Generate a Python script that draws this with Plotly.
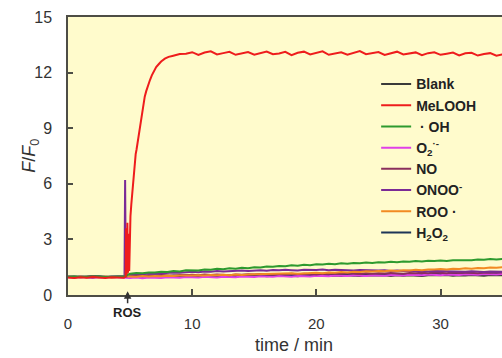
import plotly.graph_objects as go

# ---------------- data ----------------
# shared time base (min) for the slow-response probes
T = [0, 0.5, 1, 1.5, 2, 2.5, 3, 3.5, 4, 4.5,
     4.55, 4.6, 4.65, 4.75, 4.8, 4.85,
     5, 5.5, 6, 6.5, 7, 7.5, 8, 8.5, 9, 9.5,
     10, 10.5, 11, 11.5, 12, 12.5, 13, 13.5, 14, 14.5,
     15, 15.5, 16, 16.5, 17, 17.5, 18, 18.5, 19, 19.5,
     20, 20.5, 21, 21.5, 22, 22.5, 23, 23.5, 24, 24.5,
     25, 25.5, 26, 26.5, 27, 27.5, 28, 28.5, 29, 29.5,
     30, 30.5, 31, 31.5, 32, 32.5, 33, 33.5, 34, 34.5,
     35]

blank = [0.99, 0.97, 1.00, 0.98, 1.01, 0.97, 0.99, 0.98, 1.00, 0.97,
         0.98, 0.99, 0.97, 0.98, 1.00, 0.99,
         1.00, 1.02, 0.99, 1.01, 1.03, 1.00, 1.02, 0.99, 1.03, 1.01,
         1.02, 1.04, 1.00, 1.03, 1.01, 1.04, 1.02, 1.00, 1.04, 1.02,
         1.03, 1.05, 1.01, 1.04, 1.02, 1.05, 1.03, 1.01, 1.05, 1.03,
         1.04, 1.06, 1.02, 1.05, 1.03, 1.06, 1.04, 1.02, 1.06, 1.04,
         1.05, 1.07, 1.03, 1.06, 1.04, 1.07, 1.05, 1.03, 1.07, 1.05,
         1.06, 1.08, 1.04, 1.07, 1.05, 1.08, 1.06, 1.04, 1.08, 1.06,
         1.07]

h2o2 = [0.98, 1.00, 0.97, 0.99, 0.98, 1.01, 0.97, 0.99, 1.00, 0.98,
        0.99, 0.98, 1.00, 0.99, 1.01, 1.02,
        1.03, 1.01, 1.04, 1.02, 1.05, 1.03, 1.01, 1.05, 1.03, 1.06,
        1.04, 1.02, 1.06, 1.04, 1.07, 1.05, 1.03, 1.07, 1.05, 1.08,
        1.06, 1.04, 1.08, 1.06, 1.09, 1.07, 1.05, 1.09, 1.07, 1.10,
        1.08, 1.06, 1.10, 1.08, 1.11, 1.09, 1.07, 1.11, 1.09, 1.12,
        1.10, 1.08, 1.12, 1.10, 1.13, 1.11, 1.09, 1.13, 1.11, 1.14,
        1.12, 1.10, 1.14, 1.12, 1.15, 1.13, 1.11, 1.15, 1.13, 1.16,
        1.14]

superoxide = [0.96, 0.94, 0.97, 0.95, 0.93, 0.96, 0.94, 0.97, 0.95, 0.94,
              0.95, 0.94, 0.96, 0.95, 0.93, 0.94,
              0.92, 0.94, 0.91, 0.95, 0.93, 0.92, 0.96, 0.94, 0.93, 0.97,
              0.95, 0.94, 0.98, 0.96, 0.95, 0.99, 0.97, 0.96, 1.00, 0.98,
              0.97, 1.01, 0.99, 0.98, 1.02, 1.00, 0.99, 1.03, 1.01, 1.00,
              1.04, 1.02, 1.01, 1.05, 1.03, 1.02, 1.06, 1.04, 1.03, 1.07,
              1.05, 1.04, 1.08, 1.06, 1.05, 1.09, 1.07, 1.06, 1.10, 1.08,
              1.07, 1.11, 1.09, 1.08, 1.12, 1.10, 1.09, 1.13, 1.11, 1.10,
              1.13]

no = [0.97, 0.99, 0.96, 0.98, 1.00, 0.97, 0.99, 0.96, 0.98, 0.97,
      0.98, 0.97, 0.99, 1.00, 1.02, 1.03,
      1.04, 1.06, 1.03, 1.07, 1.05, 1.08, 1.06, 1.04, 1.08, 1.06,
      1.09, 1.07, 1.10, 1.08, 1.11, 1.09, 1.07, 1.11, 1.09, 1.12,
      1.10, 1.13, 1.11, 1.09, 1.13, 1.11, 1.14, 1.12, 1.15, 1.13,
      1.11, 1.15, 1.13, 1.16, 1.14, 1.17, 1.15, 1.13, 1.17, 1.15,
      1.18, 1.16, 1.19, 1.17, 1.15, 1.19, 1.17, 1.20, 1.18, 1.21,
      1.19, 1.17, 1.21, 1.19, 1.22, 1.20, 1.18, 1.22, 1.20, 1.23,
      1.21]

onoo = [0.98, 0.96, 0.99, 0.97, 0.95, 0.98, 0.96, 0.99, 0.97, 0.98,
        1.00, 6.20, 1.20, 1.10, 1.05, 1.08,
        1.10, 1.13, 1.12, 1.16, 1.15, 1.18, 1.17, 1.21, 1.20, 1.23,
        1.25, 1.23, 1.27, 1.26, 1.29, 1.27, 1.30, 1.29, 1.32, 1.30,
        1.32, 1.34, 1.31, 1.35, 1.33, 1.36, 1.34, 1.32, 1.36, 1.34,
        1.35, 1.37, 1.33, 1.36, 1.34, 1.35, 1.32, 1.35, 1.33, 1.31,
        1.32, 1.34, 1.30, 1.32, 1.29, 1.31, 1.28, 1.30, 1.27, 1.29,
        1.28, 1.26, 1.29, 1.27, 1.25, 1.28, 1.26, 1.24, 1.27, 1.25,
        1.25]

roo = [0.97, 0.95, 0.98, 0.96, 0.99, 0.96, 0.98, 0.95, 0.97, 0.96,
       0.97, 0.98, 1.00, 3.00, 1.10, 1.00,
       1.00, 0.98, 1.02, 1.00, 1.03, 1.01, 1.04, 1.02, 1.05, 1.03,
       1.05, 1.07, 1.05, 1.08, 1.06, 1.09, 1.07, 1.10, 1.08, 1.11,
       1.12, 1.10, 1.14, 1.12, 1.15, 1.14, 1.17, 1.15, 1.18, 1.17,
       1.20, 1.18, 1.22, 1.20, 1.24, 1.22, 1.26, 1.24, 1.28, 1.27,
       1.30, 1.28, 1.32, 1.30, 1.34, 1.32, 1.36, 1.34, 1.38, 1.37,
       1.40, 1.38, 1.42, 1.40, 1.44, 1.42, 1.46, 1.44, 1.48, 1.47,
       1.50]

oh = [0.98, 1.00, 0.97, 0.99, 0.98, 1.00, 0.97, 0.99, 0.98, 1.00,
      0.99, 1.00, 1.02, 1.05, 1.08, 1.10,
      1.15, 1.19, 1.17, 1.22, 1.21, 1.26, 1.24, 1.29, 1.27, 1.33,
      1.34, 1.32, 1.38, 1.36, 1.41, 1.39, 1.44, 1.42, 1.47, 1.45,
      1.50, 1.48, 1.54, 1.52, 1.57, 1.55, 1.60, 1.58, 1.63, 1.61,
      1.66, 1.64, 1.68, 1.66, 1.71, 1.69, 1.73, 1.71, 1.75, 1.73,
      1.77, 1.75, 1.79, 1.77, 1.81, 1.79, 1.83, 1.81, 1.85, 1.83,
      1.86, 1.84, 1.88, 1.87, 1.90, 1.88, 1.92, 1.90, 1.94, 1.92,
      1.95]

# MeLOOH has its own, denser time base around the fast rise
T_MELOOH = [0, 0.5, 1, 1.5, 2, 2.5, 3, 3.5, 4, 4.5,
            4.65, 4.68, 4.72, 4.78, 4.83, 4.88, 4.93, 4.98, 5.03, 5.1,
            5.2, 5.3, 5.38, 5.45, 5.52, 5.6, 5.68, 5.75, 5.85, 5.92,
            6.0, 6.1, 6.18, 6.3, 6.4, 6.5, 6.6, 6.75, 6.9, 7.1,
            7.3, 7.5, 7.8, 8.1, 8.4, 8.7, 9.0,
            9.5, 10, 10.5, 11, 11.5, 12, 12.5, 13, 13.5, 14, 14.5,
            15, 15.5, 16, 16.5, 17, 17.5, 18, 18.5, 19, 19.5,
            20, 20.5, 21, 21.5, 22, 22.5, 23, 23.5, 24, 24.5,
            25, 25.5, 26, 26.5, 27, 27.5, 28, 28.5, 29, 29.5,
            30, 30.5, 31, 31.5, 32, 32.5, 33, 33.5, 34, 34.5, 35]

meLOOH = [0.95, 0.92, 0.96, 0.93, 0.97, 0.94, 0.92, 0.96, 0.95, 0.93,
          1.00, 3.60, 1.10, 3.90, 1.20, 3.30, 1.30, 4.00, 4.25, 4.90,
          5.70, 6.60, 7.30, 7.60, 7.85, 8.20, 8.50, 8.80, 9.30, 9.60,
          10.00, 10.35, 10.70, 11.00, 11.25, 11.45, 11.60, 11.85, 12.05, 12.30,
          12.45, 12.60, 12.75, 12.85, 12.90, 12.95, 13.00,
          13.02, 13.10, 12.95, 13.08, 13.15, 12.98, 13.05, 13.12, 12.96, 13.04,
          13.11, 12.97, 13.06, 13.14, 12.99, 13.03, 13.12, 12.94, 13.07, 13.13,
          12.98, 13.05, 13.15, 12.96, 13.02, 13.10, 12.97, 13.08, 13.16, 12.99,
          13.04, 13.11, 12.95, 13.06, 13.13, 12.98, 13.03, 13.09, 12.94, 13.05,
          13.10, 12.96, 13.02, 13.08, 12.93, 13.04, 13.07, 12.92, 13.00, 13.05,
          12.91, 12.98]

ROS_TIME = 4.8
Y_TICKS = [0, 3, 6, 9, 12, 15]
X_TICKS = [0, 10, 20, 30]

# (name, x, y, colour, legend rank) drawn bottom-to-top
series = [
    ("Blank", T, blank, "#3a3a3a", 1),
    ("H<sub>2</sub>O<sub>2</sub>", T, h2o2, "#1d3557", 8),
    ("O<sub>2</sub><sup>·-</sup>", T, superoxide, "#e040e8", 4),
    ("NO", T, no, "#8a2f5c", 5),
    ("ONOO<sup>-</sup>", T, onoo, "#7b2a96", 6),
    ("ROO ·", T, roo, "#f28a22", 7),
    (" · OH", T, oh, "#2e9a2e", 3),
    ("MeLOOH", T_MELOOH, meLOOH, "#ee1c1c", 2),
]

fig = go.Figure()
for name, xs, ys, col, rank in series:
    fig.add_trace(go.Scatter(
        x=xs, y=ys, mode="lines", name=name,
        line=dict(color=col, width=2),
        legendrank=rank, legendgroup=name,
    ))

FONT = "Liberation Sans, Arial"

fig.add_annotation(
    x=ROS_TIME, y=0.2, xref="x", yref="y",
    text="<b>ROS</b>", showarrow=True, arrowhead=2, arrowsize=1,
    arrowwidth=1.5, arrowcolor="#333333", ax=0, ay=21,
    font=dict(family=FONT, size=13, color="#222222"),
)
# axis titles
fig.add_annotation(
    x=-0.088, y=0.5, xref="paper", yref="paper", showarrow=False,
    text="<i>F</i>/<i>F</i><sub>0</sub>", textangle=-90,
    xanchor="center", yanchor="middle",
    font=dict(family=FONT, size=18, color="#333333"),
)
fig.add_annotation(
    x=0.521, y=-0.18, xref="paper", yref="paper", showarrow=False,
    text="time / min", xanchor="center", yanchor="middle",
    font=dict(family=FONT, size=18, color="#333333"),
)

axis_col = "#4d4d45"
fig.update_layout(
    width=502, height=358,
    margin=dict(l=68, r=0, t=17, b=63),
    paper_bgcolor="white",
    plot_bgcolor="#fffbcc",
    font=dict(family=FONT, color="#333333", size=15),
    showlegend=True,
    legend=dict(
        x=0.71, y=0.815, xanchor="left", yanchor="top",
        bgcolor="rgba(0,0,0,0)",
        font=dict(family=FONT, size=14, color="#222222", weight="bold"),
        tracegroupgap=0,
        itemwidth=30,
    ),
    xaxis=dict(
        range=[0, 34.95], tickvals=X_TICKS,
        ticks="inside", ticklen=6, tickwidth=1.5, tickcolor=axis_col,
        showline=True, linecolor=axis_col, linewidth=1.5, mirror=True,
        showgrid=False, zeroline=False,
        tickfont=dict(size=15, color="#333333"),
        ticklabelstandoff=14,
    ),
    yaxis=dict(
        range=[0, 15], tickvals=Y_TICKS,
        ticks="inside", ticklen=5, tickwidth=1.5, tickcolor=axis_col,
        showline=True, linecolor=axis_col, linewidth=1.5, mirror=False,
        showgrid=False, zeroline=False,
        tickfont=dict(size=16, color="#333333"),
        ticklabelstandoff=11,
    ),
)

fig.write_html(
    "out.html",
    config={"displayModeBar": False},
    post_script="document.body.style.margin='0';document.body.style.overflow='hidden';",
)
